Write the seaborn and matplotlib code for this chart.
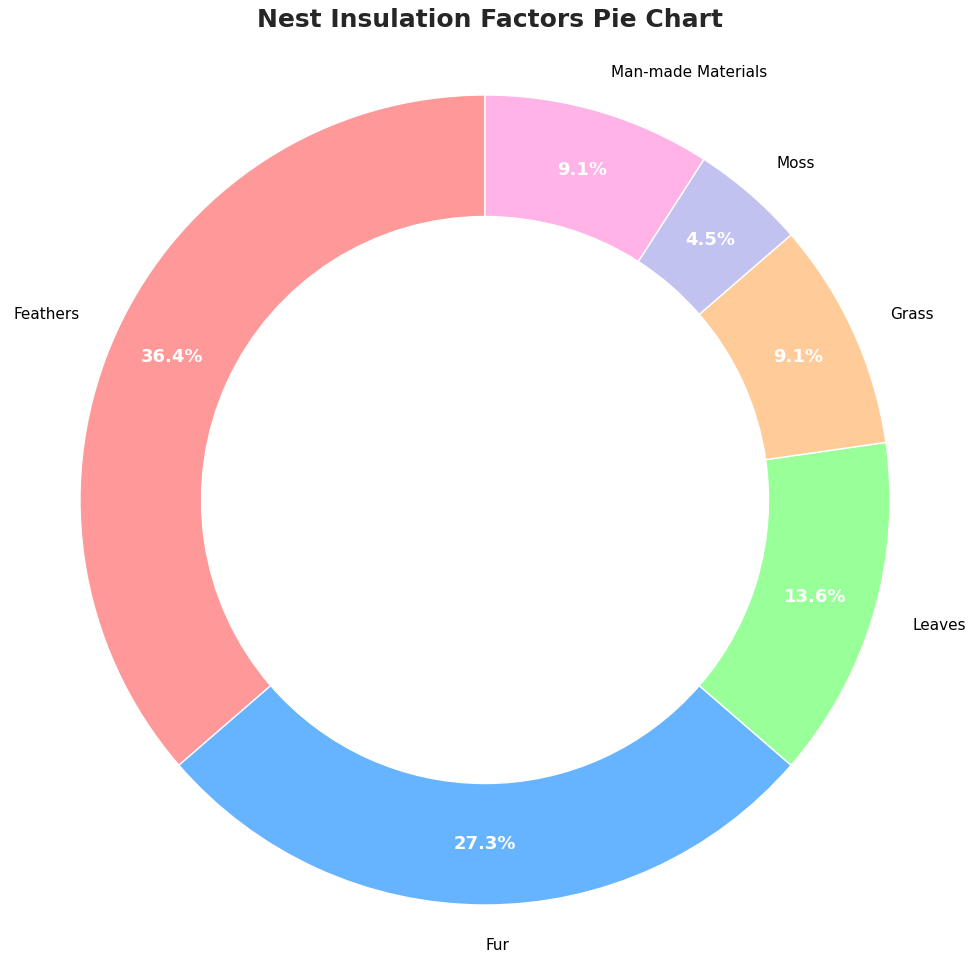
import matplotlib
matplotlib.use("Agg")
import matplotlib.pyplot as plt
import seaborn as sns

sns.set_theme(style="white")
plt.rcParams['font.family'] = ['DejaVu Sans']

categories = ["Feathers", "Fur", "Leaves", "Grass", "Moss", "Man-made Materials"]
values = [8, 6, 3, 2, 1, 2]
colors = ["#FF9999", "#66B3FF", "#99FF99", "#FFCC99", "#C2C2F0", "#FFB3E6"]

W, H = 980, 964
fig = plt.figure(figsize=(W / 100, H / 100), dpi=100)
S = 972
cx, cy = 485, 500
ax = fig.add_axes([(cx - S / 2) / W, ((H - cy) - S / 2) / H, S / W, S / H])
wedges, texts, autotexts = ax.pie(values, labels=categories, colors=colors, startangle=90,
                                  autopct="%1.1f%%", pctdistance=0.85, labeldistance=1.1,
                                  wedgeprops=dict(width=0.3, edgecolor="white", linewidth=1),
                                  textprops=dict(fontsize=11, color="black"))
for t in autotexts:
    t.set_color("white")
    t.set_fontweight("bold")
    t.set_fontsize(13)
ax.set_xlim(-1.2, 1.2)
ax.set_ylim(-1.2, 1.2)
ax.set_aspect("equal")
ax.axis("off")
fig.text(0.5, 1 - 20 / H, "Nest Insulation Factors Pie Chart", fontsize=18,
         fontweight="bold", ha="center", va="center", color="#262626")
fig.savefig("out.png", dpi=100)
